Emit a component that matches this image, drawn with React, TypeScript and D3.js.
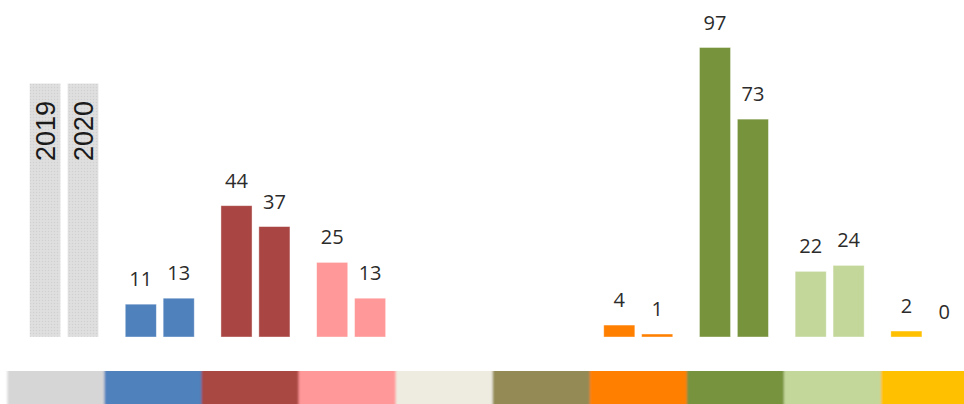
import React from "react";
import * as d3 from "d3";

const categories = ["key", "c1", "c2", "c3", "c4", "c5", "c6", "c7", "c8", "c9"];
const years = ["2019", "2020"];
const values2019: (number | null)[] = [85, 11, 44, 25, null, null, 4, 97, 22, 2];
const values2020: (number | null)[] = [85, 13, 37, 13, null, null, 1, 73, 24, 0];
const colors = [
  "#d9d9d9", "#4f81bd", "#a94643", "#ff9898", "#eeece1",
  "#948a54", "#ff8000", "#77933c", "#c4d79b", "#ffc000",
];

const W = 964;
const H = 404;

export default function App() {
  const x0 = d3.scaleBand<string>().domain(categories).range([16.2, 973.2]);
  const x1 = d3.scaleBand<string>().domain(years).range([-34.5, 34.5]).paddingInner(0.18);
  const y = d3.scaleLinear().domain([0, 97]).range([337, 47.5]);
  const strip = d3.scaleBand<string>().domain(categories).range([7.4, 978]);
  const series = [values2019, values2020];

  return (
    <svg
      width={W}
      height={H}
      style={{ position: "absolute", left: 0, top: 0, background: "#fff" }}
      fontFamily="'Open Sans', 'Noto Sans', sans-serif"
    >
      <defs>
        <pattern id="dots" width="3" height="3" patternUnits="userSpaceOnUse">
          <rect width="3" height="3" fill="#dddddd" />
          <rect x="0" y="0" width="1" height="1" fill="#d0d0d0" />
          <rect x="1.5" y="1.5" width="1" height="1" fill="#e6e6e6" />
        </pattern>
        <filter id="soft" x="-2%" y="0" width="104%" height="100%">
          <feGaussianBlur stdDeviation="1.2 0" />
        </filter>
      </defs>

      {categories.map((c, i) => {
        const cx = (x0(c) as number) + x0.bandwidth() / 2;
        return (
          <g key={c}>
            {years.map((yr, j) => {
              const v = series[j][i];
              if (v === null) return null;
              const bx = cx + (x1(yr) as number);
              const top = y(v);
              const isKey = i === 0;
              return (
                <g key={yr}>
                  {v > 0 && (
                    <rect
                      x={bx}
                      y={top}
                      width={x1.bandwidth()}
                      height={y(0) - top}
                      fill={isKey ? "url(#dots)" : colors[i]}
                      stroke="#ffffff"
                      strokeOpacity={0.5}
                      strokeWidth={0.8}
                    />
                  )}
                  {isKey ? (
                    <text
                      transform={`translate(${bx + x1.bandwidth() / 2 + 10},101) rotate(-90)`}
                      textAnchor="end"
                      fontFamily="'Liberation Sans', Arial, sans-serif"
                      fontSize={27}
                      fill="#1a1a1a"
                    >
                      {yr}
                    </text>
                  ) : (
                    <text
                      x={bx + x1.bandwidth() / 2}
                      y={top - 18}
                      textAnchor="middle"
                      fontSize={20}
                      fill="#2b2b2b"
                    >
                      {v}
                    </text>
                  )}
                </g>
              );
            })}
          </g>
        );
      })}

      <g filter="url(#soft)">
        {categories.map((c, i) => (
          <rect
            key={c}
            x={strip(c) as number}
            y={371}
            width={strip.bandwidth() + 0.5}
            height={40}
            fill={i === 0 ? "#d6d6d6" : colors[i]}
          />
        ))}
      </g>
    </svg>
  );
}
